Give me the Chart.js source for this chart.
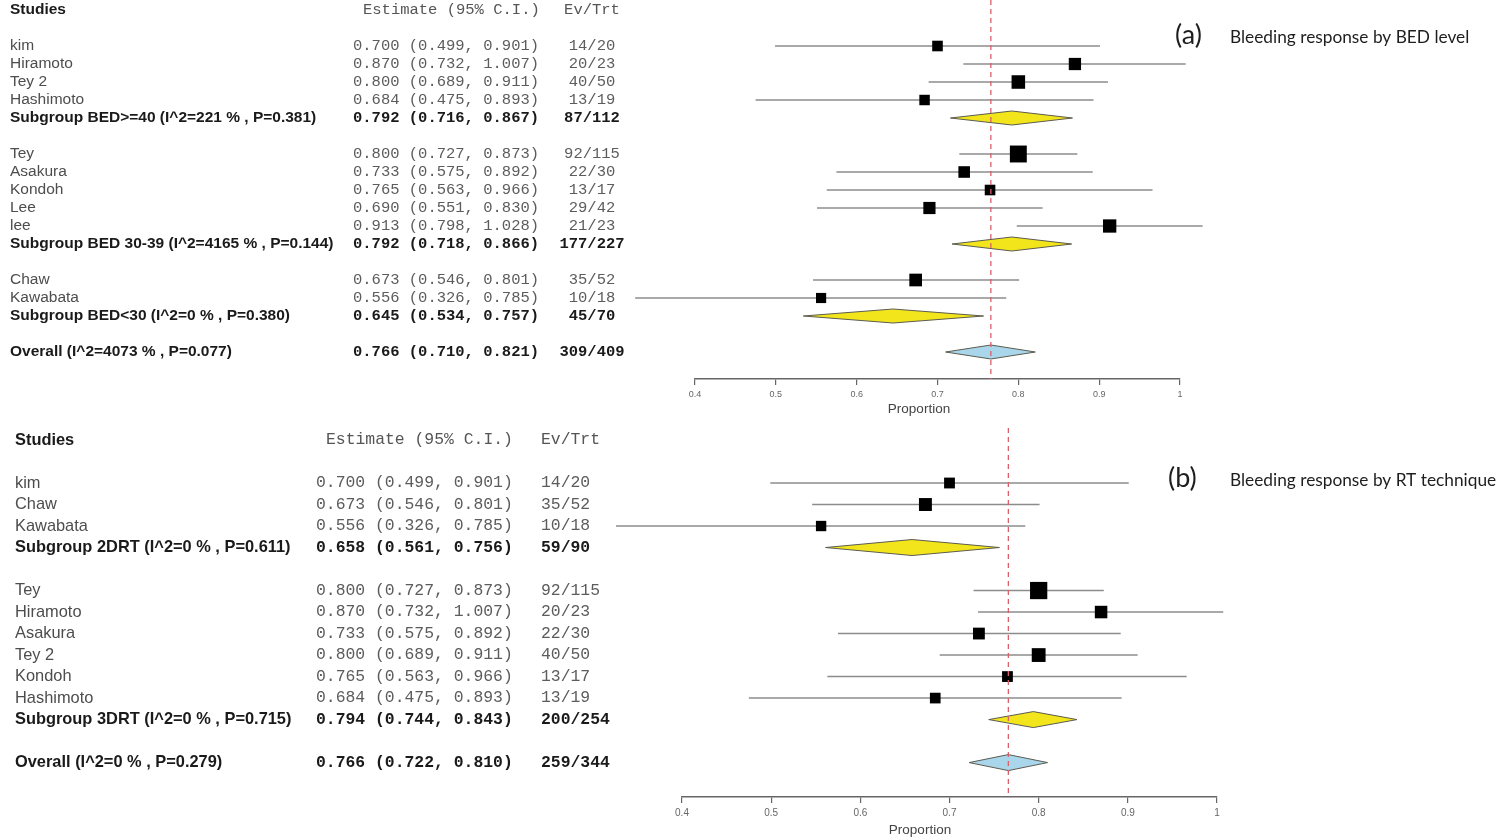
<!DOCTYPE html>
<html>
<head>
<meta charset="utf-8">
<title>Bleeding response forest plots</title>
<script src="https://cdn.jsdelivr.net/npm/chart.js@4.4.1/dist/chart.umd.min.js"></script>
<style>
  html, body { margin: 0; padding: 0; background: #fff; }
  canvas { display: block; }
</style>
</head>
<body>
<canvas id="forestA" width="1503" height="420"></canvas>
<canvas id="forestB" width="1503" height="420"></canvas>
<script>
  // x axis ticks shared by both panels
  const xTicks = [0.4, 0.5, 0.6, 0.7, 0.8, 0.9, 1];

  // ---- panel (a): by BED level ----
  const aStudies = ['kim', 'Hiramoto', 'Tey 2', 'Hashimoto', 'Tey', 'Asakura', 'Kondoh', 'Lee', 'lee', 'Chaw', 'Kawabata'];
  const aEst = [0.700, 0.870, 0.800, 0.684, 0.800, 0.733, 0.765, 0.690, 0.913, 0.673, 0.556];
  const aLo  = [0.499, 0.732, 0.689, 0.475, 0.727, 0.575, 0.563, 0.551, 0.798, 0.546, 0.326];
  const aHi  = [0.901, 1.007, 0.911, 0.893, 0.873, 0.892, 0.966, 0.830, 1.028, 0.801, 0.785];
  const aEv  = [14, 20, 40, 13, 92, 22, 13, 29, 21, 35, 10];
  const aTrt = [20, 23, 50, 19, 115, 30, 17, 42, 23, 52, 18];
  const aRows = [2, 3, 4, 5, 8, 9, 10, 11, 12, 15, 16];

  const aSubLabels = [
    'Subgroup BED>=40 (I^2=221 % , P=0.381)',
    'Subgroup BED 30-39 (I^2=4165 % , P=0.144)',
    'Subgroup BED<30 (I^2=0 % , P=0.380)',
    'Overall (I^2=4073 % , P=0.077)'
  ];
  const aSubEst = [0.792, 0.792, 0.645, 0.766];
  const aSubLo  = [0.716, 0.718, 0.534, 0.710];
  const aSubHi  = [0.867, 0.866, 0.757, 0.821];
  const aSubEv  = [87, 177, 45, 309];
  const aSubTrt = [112, 227, 70, 409];
  const aSubRows = [6, 13, 17, 19];

  // ---- panel (b): by RT technique ----
  const bStudies = ['kim', 'Chaw', 'Kawabata', 'Tey', 'Hiramoto', 'Asakura', 'Tey 2', 'Kondoh', 'Hashimoto'];
  const bEst = [0.700, 0.673, 0.556, 0.800, 0.870, 0.733, 0.800, 0.765, 0.684];
  const bLo  = [0.499, 0.546, 0.326, 0.727, 0.732, 0.575, 0.689, 0.563, 0.475];
  const bHi  = [0.901, 0.801, 0.785, 0.873, 1.007, 0.892, 0.911, 0.966, 0.893];
  const bEv  = [14, 35, 10, 92, 20, 22, 40, 13, 13];
  const bTrt = [20, 52, 18, 115, 23, 30, 50, 17, 19];
  const bRows = [2, 3, 4, 7, 8, 9, 10, 11, 12];

  const bSubLabels = [
    'Subgroup 2DRT (I^2=0 % , P=0.611)',
    'Subgroup 3DRT (I^2=0 % , P=0.715)',
    'Overall (I^2=0 % , P=0.279)'
  ];
  const bSubEst = [0.658, 0.794, 0.766];
  const bSubLo  = [0.561, 0.744, 0.722];
  const bSubHi  = [0.756, 0.843, 0.810];
  const bSubEv  = [59, 200, 259];
  const bSubTrt = [90, 254, 344];
  const bSubRows = [5, 13, 15];

  const SANS = '"Liberation Sans", Arial, sans-serif';
  const MONO = '"Liberation Mono", "Courier New", monospace';
  const TAG = 'Lato, "Open Sans", sans-serif';

  const fmt = v => v.toFixed(3);
  const ciText = (e, l, h) => `${fmt(e)} (${fmt(l)}, ${fmt(h)})`;

  // box side grows with the inverse-variance weight of the study
  function boxSide(ev, trt) {
    const p = ev / trt;
    const w = trt / (p * (1 - p));
    return 7 + 0.37 * Math.sqrt(w);
  }

  function buildPanel(canvasId, p, lay) {
    const canvas = document.getElementById(canvasId);
    const overall = p.subEst[p.subEst.length - 1];

    const datasets = [];

    // reference line at the overall estimate
    datasets.push({
      data: [{ x: overall, y: lay.lineTop }, { x: overall, y: lay.yMax }],
      showLine: true,
      borderColor: '#dc5f6c',
      borderWidth: 1.3,
      borderDash: [5, 4],
      pointRadius: 0,
      clip: false,
      order: 0
    });

    // study boxes
    datasets.push({
      data: p.studies.map((s, i) => ({ x: p.est[i], y: p.rows[i] })),
      showLine: false,
      pointStyle: 'rect',
      pointRadius: p.studies.map((s, i) => boxSide(p.ev[i], p.trt[i]) * lay.boxScale / Math.SQRT2),
      pointBackgroundColor: '#000',
      pointBorderWidth: 0,
      clip: false,
      order: 1
    });

    // confidence interval lines
    p.studies.forEach((s, i) => {
      datasets.push({
        data: [{ x: p.lo[i], y: p.rows[i] }, { x: p.hi[i], y: p.rows[i] }],
        showLine: true,
        borderColor: '#8c8c8c',
        borderWidth: 1.6,
        pointRadius: 0,
        clip: false,
        order: 2
      });
    });

    const forestText = {
      id: 'forestText',
      beforeDatasetsDraw(chart) {
        const ctx = chart.ctx;
        const xs = chart.scales.x, ys = chart.scales.y;
        ctx.save();
        p.subEst.forEach((e, i) => {
          const xl = xs.getPixelForValue(p.subLo[i]);
          const xm = xs.getPixelForValue(e);
          const xr = xs.getPixelForValue(p.subHi[i]);
          const y = ys.getPixelForValue(p.subRows[i]);
          const h = lay.diamondHalf;
          ctx.beginPath();
          ctx.moveTo(xl, y);
          ctx.lineTo(xm, y - h);
          ctx.lineTo(xr, y);
          ctx.lineTo(xm, y + h);
          ctx.closePath();
          ctx.fillStyle = i === p.subEst.length - 1 ? '#a9d6ea' : '#f3e51c';
          ctx.fill();
          ctx.strokeStyle = '#5b5b50';
          ctx.lineWidth = 1;
          ctx.stroke();
        });
        ctx.restore();
      },
      afterDraw(chart) {
        const ctx = chart.ctx;
        const ys = chart.scales.y;
        const fs = lay.fontSize;
        ctx.save();
        ctx.textBaseline = 'middle';

        const evText = (x, y, txt) => {
          ctx.textAlign = lay.evAlign;
          ctx.fillText(txt, x, y);
          ctx.textAlign = 'left';
        };

        // header
        let y = ys.getPixelForValue(0);
        ctx.fillStyle = '#1a1a1a';
        ctx.font = `bold ${fs}px ${SANS}`;
        ctx.fillText('Studies', lay.nameX, y);
        ctx.fillStyle = '#555';
        ctx.font = `${fs}px ${MONO}`;
        ctx.fillText('Estimate (95% C.I.)', lay.headEstX, y);
        evText(lay.evX, y, 'Ev/Trt');

        // study rows
        p.studies.forEach((s, i) => {
          y = ys.getPixelForValue(p.rows[i]);
          ctx.fillStyle = '#4d4d4d';
          ctx.font = `${fs}px ${SANS}`;
          ctx.fillText(s, lay.nameX, y);
          ctx.fillStyle = '#5c5c5c';
          ctx.font = `${fs}px ${MONO}`;
          ctx.fillText(ciText(p.est[i], p.lo[i], p.hi[i]), lay.estX, y);
          evText(lay.evX, y, `${p.ev[i]}/${p.trt[i]}`);
        });

        // subgroup and overall rows
        p.subLabels.forEach((s, i) => {
          y = ys.getPixelForValue(p.subRows[i]);
          ctx.fillStyle = '#1a1a1a';
          ctx.font = `bold ${fs}px ${SANS}`;
          ctx.fillText(s, lay.nameX, y);
          ctx.font = `bold ${fs}px ${MONO}`;
          ctx.fillText(ciText(p.subEst[i], p.subLo[i], p.subHi[i]), lay.estX, y);
          evText(lay.evX, y, `${p.subEv[i]}/${p.subTrt[i]}`);
        });

        // x axis title (sits left of the axis centre, as in the original)
        ctx.fillStyle = '#444';
        ctx.font = `13.5px ${SANS}`;
        ctx.textAlign = 'center';
        ctx.fillText('Proportion', lay.axisTitleX, lay.axisTitleY);
        ctx.textAlign = 'left';

        // panel tag and caption
        ctx.fillStyle = '#1e1e1e';
        ctx.font = `27px ${TAG}`;
        ctx.fillText(p.tag, lay.tagX, lay.tagY);
        ctx.font = `17.3px ${TAG}`;
        ctx.fillText(p.caption, lay.captionX, lay.tagY + 2);
        ctx.restore();
      }
    };

    return new Chart(canvas, {
      type: 'scatter',
      data: { datasets: datasets },
      options: {
        responsive: false,
        animation: false,
        events: [],
        layout: {
          autoPadding: false,
          padding: { left: lay.left, right: 1503 - lay.right, top: 0, bottom: lay.padBottom }
        },
        plugins: {
          legend: { display: false },
          tooltip: { enabled: false }
        },
        scales: {
          x: {
            type: 'linear',
            min: 0.4,
            max: 1,
            afterBuildTicks: axis => { axis.ticks = xTicks.map(v => ({ value: v })); },
            afterFit: axis => { axis.height = 40; },
            ticks: {
              callback: v => String(v),
              font: { family: SANS, size: lay.tickSize },
              color: '#666',
              padding: 4,
              maxRotation: 0,
              autoSkip: false
            },
            grid: { drawOnChartArea: false, drawTicks: true, tickLength: 6, color: '#666', lineWidth: 1.2 },
            border: { display: true, color: '#666', width: 1.5 },
            title: { display: false }
          },
          y: {
            type: 'linear',
            min: lay.yMin,
            max: lay.yMax,
            reverse: true,
            display: false
          }
        }
      },
      plugins: [forestText]
    });
  }

  buildPanel('forestA', {
    studies: aStudies, est: aEst, lo: aLo, hi: aHi, ev: aEv, trt: aTrt, rows: aRows,
    subLabels: aSubLabels, subEst: aSubEst, subLo: aSubLo, subHi: aSubHi,
    subEv: aSubEv, subTrt: aSubTrt, subRows: aSubRows,
    tag: '(a)', caption: 'Bleeding response by BED level'
  }, {
    left: 695, right: 1180, yMin: -0.556, yMax: 20.5, lineTop: -0.556, padBottom: 1,
    fontSize: 15.5, tickSize: 9, boxScale: 1,
    nameX: 10, estX: 353, headEstX: 363, evX: 592, evAlign: 'center',
    diamondHalf: 7, tagX: 1175, tagY: 35, captionX: 1230,
    axisTitleX: 919, axisTitleY: 409
  });

  buildPanel('forestB', {
    studies: bStudies, est: bEst, lo: bLo, hi: bHi, ev: bEv, trt: bTrt, rows: bRows,
    subLabels: bSubLabels, subEst: bSubEst, subLo: bSubLo, subHi: bSubHi,
    subEv: bSubEv, subTrt: bSubTrt, subRows: bSubRows,
    tag: '(b)', caption: 'Bleeding response by RT technique'
  }, {
    left: 682, right: 1217, yMin: -0.93, yMax: 16.6, lineTop: -0.56, padBottom: 3,
    fontSize: 16.4, tickSize: 10, boxScale: 1.02,
    nameX: 15, estX: 316, headEstX: 326, evX: 541, evAlign: 'left',
    diamondHalf: 8, tagX: 1168, tagY: 58, captionX: 1230,
    axisTitleX: 920, axisTitleY: 410
  });
</script>
</body>
</html>
